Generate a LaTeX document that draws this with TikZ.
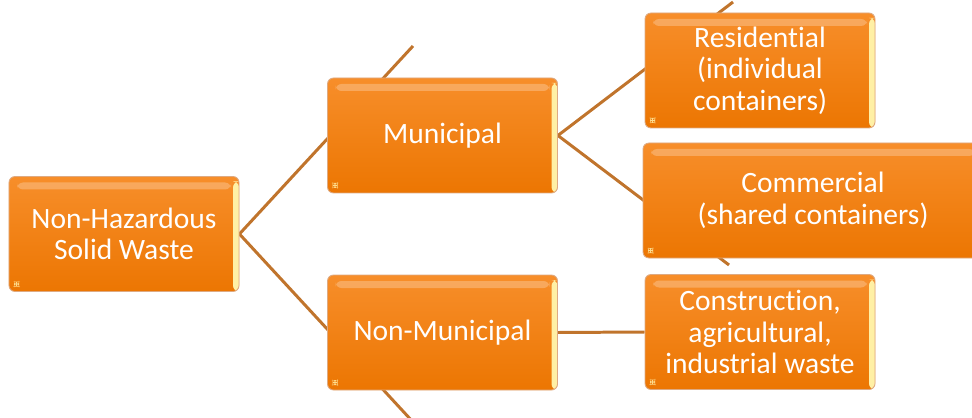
\documentclass[tikz,border=0pt]{standalone}
\usepackage{fontspec}
\usepackage{tikz}
\usetikzlibrary{backgrounds}
\newfontfamily\boxfont[Ligatures=NoCommon]{Carlito}
\definecolor{boxtop}{RGB}{247,142,42}
\definecolor{boxbot}{RGB}{236,118,2}
\definecolor{boxrim}{RGB}{222,170,130}
\definecolor{rimlight}{RGB}{255,240,165}
\definecolor{linkbrown}{RGB}{192,116,44}
\tikzset{
  wastebox/.style={rectangle, rounded corners=0.12cm, draw=boxrim, line width=0.5pt,
    top color=boxtop, bottom color=boxbot, text=white, align=center,
    font=\boxfont\fontsize{16.8}{18}\selectfont,
    minimum width=4.6cm, minimum height=2.3cm, inner sep=2pt,
    path picture={
      % glossy band under the top edge
      \fill[white, opacity=0.25] ([xshift=0.16cm,yshift=-0.12cm]path picture bounding box.north west)
        rectangle ([xshift=-0.16cm,yshift=-0.26cm]path picture bounding box.north east);
      % pale rim on the right side
      \fill[rimlight] ([xshift=-0.12cm,yshift=-0.1cm]path picture bounding box.north east)
        rectangle (path picture bounding box.south east);
      % corner speck
      \fill[rimlight!80!boxtop] ([xshift=0.1cm,yshift=0.1cm]path picture bounding box.south west) rectangle ++(0.1,0.1);
    }},
  link/.style={line width=1.7pt, color=linkbrown}
}

\begin{document}
\begin{tikzpicture}
  \useasboundingbox (0,0) rectangle (19.44,8.34);
  \clip (0,0) rectangle (19.44,8.34);
  % Boxes
  \node[wastebox] (solid) at (2.48,3.66) {Non-Hazardous\\Solid Waste};
  \node[wastebox] (muni) at (8.85,5.63) {Municipal};
  \node[wastebox] (nonmuni) at (8.85,1.69) {Non-Municipal};
  \node[wastebox] (resid) at (15.2,6.93) {Residential\\(individual\\containers)};
  \node[wastebox, minimum width=6.8cm] (comm) at (16.26,4.33) {Commercial\\(shared containers)};
  \node[wastebox] (constr) at (15.2,1.70) {Construction,\\agricultural,\\industrial waste};
  % Loose ends of the branch lines
  \coordinate (munitop) at (8.26,7.42);
  \coordinate (nonmunibot) at (8.26,-0.10);
  \coordinate (residtop) at (14.66,8.30);
  \coordinate (commbot) at (14.58,3.04);
  % Connectors (behind the boxes)
  \begin{scope}[on background layer]
    \draw[link] (solid.east) -- (munitop);
    \draw[link] (solid.east) -- (nonmunibot);
    \draw[link] (muni.east) -- (residtop);
    \draw[link] (muni.east) -- (commbot);
    \draw[link] (nonmuni.east) -- (constr.west);
  \end{scope}
\end{tikzpicture}
\end{document}
